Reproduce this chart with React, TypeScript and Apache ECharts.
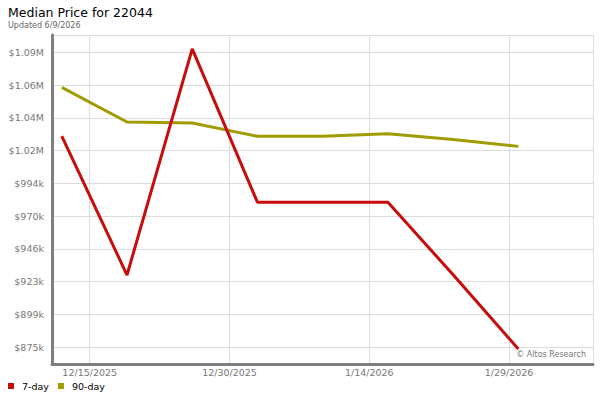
import React, { useEffect, useRef } from "react";
import * as echarts from "echarts";

const TITLE = "Median Price for 22044";
const SUBTITLE = "Updated 6/9/2026";
const CREDIT = "© Altos Research";

const dates = ["2025-12-12", "2025-12-19", "2025-12-26", "2026-01-02", "2026-01-09", "2026-01-16", "2026-01-23", "2026-01-30"];
const sevenDay = [1028300, 927300, 1091600, 980200, 980200, 980200, 927500, 873500];
const ninetyDay = [1063700, 1038500, 1037800, 1028100, 1028200, 1030000, 1025800, 1020800];

const xTickDates = ["2025-12-15", "2025-12-30", "2026-01-14", "2026-01-29"];
const xTickLabels = ["12/15/2025", "12/30/2025", "1/14/2026", "1/29/2026"];
const yTickValues = [875000, 898800, 922600, 946400, 970200, 994000, 1017800, 1041600, 1065400, 1089200];
const yTickLabels = ["$875k", "$899k", "$923k", "$946k", "$970k", "$994k", "$1.02M", "$1.04M", "$1.06M", "$1.09M"];

// axis extent, in days relative to 12/15/2025
const X_MIN = -4.05;
const X_MAX = 54.01;
const Y_MIN = 862650;
const Y_MAX = 1101740;

const EPOCH = Date.UTC(2025, 11, 15);
const dayOf = (d: string) => {
  const [y, m, dd] = d.split("-").map(Number);
  return Math.round((Date.UTC(y, m - 1, dd) - EPOCH) / 86400000);
};

export default function App() {
  const ref = useRef<HTMLDivElement>(null);
  useEffect(() => {
    if (!ref.current) return;
    const chart = echarts.init(ref.current, null, { renderer: "svg" });
    const font = "DejaVu Sans";
    const mk = (vals: number[]) => dates.map((d, i) => [dayOf(d), vals[i]]);
    const xTicks = xTickDates.map(dayOf);
    const xLabelMap: Record<string, string> = {};
    xTicks.forEach((v, i) => (xLabelMap[String(v)] = xTickLabels[i]));
    const yLabelMap: Record<string, string> = {};
    yTickValues.forEach((v, i) => (yLabelMap[String(v)] = yTickLabels[i]));
    chart.setOption({
      animation: false,
      textStyle: { fontFamily: font },
      grid: { left: 52, right: 7, top: 35, bottom: 36, containLabel: false },
      graphic: [
        { type: "text", left: 8, top: 6, style: { text: TITLE, font: `12.5px ${font}`, fill: "#000" } },
        { type: "text", left: 8, top: 21, style: { text: SUBTITLE, font: `8px ${font}`, fill: "#666" } },
        { type: "text", right: 14, top: 350, z: 100, style: { text: CREDIT, font: `8px ${font}`, fill: "#777" } },
      ],
      legend: {
        left: 8,
        top: 381,
        padding: 0,
        icon: "rect",
        itemWidth: 6,
        itemHeight: 6,
        itemGap: 9,
        textStyle: { fontSize: 9.5, color: "#000", fontFamily: font, padding: [0, 0, 0, 3] },
        data: ["7-day", "90-day"],
      },
      xAxis: {
        type: "value",
        min: X_MIN,
        max: X_MAX,
        axisLine: { show: true, onZero: false, lineStyle: { color: "#7f7f7f", width: 3 } },
        axisTick: { show: false, customValues: [...xTicks, X_MAX] },
        splitLine: { show: true, lineStyle: { color: "#dcdcdc", width: 1 } },
        axisLabel: {
          color: "#777",
          fontSize: 9.5,
          margin: 3,
          customValues: xTicks,
          formatter: (v: number) => xLabelMap[String(v)] ?? "",
        },
      },
      yAxis: {
        type: "value",
        min: Y_MIN,
        max: Y_MAX,
        axisLine: { show: true, onZero: false, lineStyle: { color: "#7f7f7f", width: 3 } },
        axisTick: { show: false, customValues: [...yTickValues, Y_MAX] },
        splitLine: { show: true, lineStyle: { color: "#dcdcdc", width: 1 } },
        axisLabel: {
          color: "#777",
          fontSize: 9.5,
          margin: 8,
          customValues: yTickValues,
          formatter: (v: number) => yLabelMap[String(v)] ?? "",
        },
      },
      series: [
        {
          name: "7-day",
          type: "line",
          data: mk(sevenDay),
          showSymbol: false,
          symbol: "none",
          lineStyle: { color: "#c80c0c", width: 3 },
          itemStyle: { color: "#c80c0c" },
          z: 3,
        },
        {
          name: "90-day",
          type: "line",
          data: mk(ninetyDay),
          showSymbol: false,
          symbol: "none",
          lineStyle: { color: "#a09c00", width: 3 },
          itemStyle: { color: "#a09c00" },
          z: 2,
        },
      ],
    });
    return () => chart.dispose();
  }, []);
  return <div ref={ref} style={{ width: 600, height: 400, position: "absolute", left: 0, top: 0 }} />;
}
